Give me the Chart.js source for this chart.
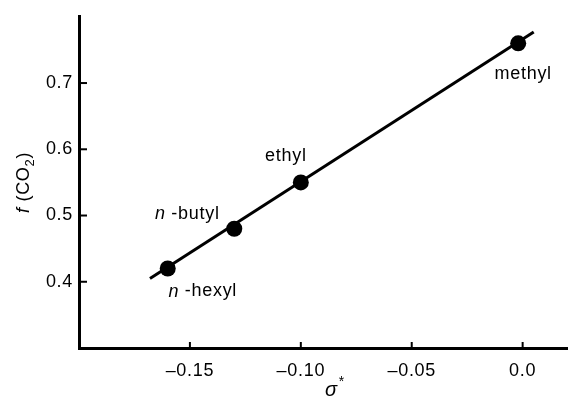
<!DOCTYPE html>
<html>
<head>
<meta charset="utf-8">
<script src="https://cdn.jsdelivr.net/npm/chart.js@4/dist/chart.umd.min.js"></script>
<style>
  body { margin: 0; background: #fff; }
  canvas { display: block; }
</style>
</head>
<body>
<canvas id="chart" width="568" height="397"></canvas>
<script>
// data
const groups = ['n-hexyl', 'n-butyl', 'ethyl', 'methyl'];
const sigmaStar = [-0.16, -0.13, -0.10, -0.002];
const fCO2 = [0.42, 0.48, 0.55, 0.76];
// fitted line end points
const fitX = [-0.168, 0.005];
const fitY = [0.405, 0.777];
const xTicks = [-0.15, -0.10, -0.05, 0.0];
const yTicks = [0.4, 0.5, 0.6, 0.7];

const FONT = '"Liberation Sans", Arial, Helvetica, sans-serif';
const fmtX = v => (v < 0 ? '\u2013' : '') + Math.abs(v).toFixed(v === 0 ? 1 : 2);

// label offsets from each point (px)
const labelOffsets = {
    'n-hexyl': [35, 23],
    'n-butyl': [-47, -15],
    'ethyl': [-15, -26],
    'methyl': [5, 31]
};

const extras = {
    id: 'extras',
    beforeDraw(chart) {
        chart.ctx.letterSpacing = '0.7px';
    },
    afterDraw(chart) {
        const ctx = chart.ctx;
        const xs = chart.scales.x, ys = chart.scales.y;
        const area = chart.chartArea;
        ctx.save();
        ctx.strokeStyle = '#000';
        ctx.lineWidth = 2;
        // inward tick marks
        yTicks.forEach(v => {
            const y = ys.getPixelForValue(v);
            ctx.beginPath(); ctx.moveTo(area.left, y); ctx.lineTo(area.left + 8, y); ctx.stroke();
        });
        xTicks.forEach(v => {
            const x = xs.getPixelForValue(v);
            ctx.beginPath(); ctx.moveTo(x, area.bottom); ctx.lineTo(x, area.bottom - 6); ctx.stroke();
        });

        // point labels
        ctx.fillStyle = '#000';
        ctx.textBaseline = 'middle';
        const meta = chart.getDatasetMeta(1);
        meta.data.forEach((pt, i) => {
            const name = groups[i];
            const [dx, dy] = labelOffsets[name];
            const cx = pt.x + dx, cy = pt.y + dy;
            if (name.startsWith('n-')) {
                const a = 'n', b = ' -' + name.slice(2);
                ctx.font = 'italic 18px ' + FONT;
                const wa = ctx.measureText(a).width;
                ctx.font = '18px ' + FONT;
                const wb = ctx.measureText(b).width;
                let x0 = cx - (wa + wb) / 2;
                ctx.textAlign = 'left';
                ctx.font = 'italic 18px ' + FONT;
                ctx.fillText(a, x0, cy);
                ctx.font = '18px ' + FONT;
                ctx.fillText(b, x0 + wa, cy);
            } else {
                ctx.textAlign = 'center';
                ctx.font = '18px ' + FONT;
                ctx.fillText(name, cx, cy);
            }
        });

        // x axis title: sigma*
        ctx.textAlign = 'left';
        ctx.textBaseline = 'alphabetic';
        ctx.font = 'italic 20px ' + FONT;
        const sx = (area.left + area.right) / 2 + 2;
        ctx.fillText('\u03c3', sx, 396);
        const sw = ctx.measureText('\u03c3').width;
        ctx.font = '14px ' + FONT;
        ctx.fillText('*', sx + sw + 1, 386);

        // y axis title: f (CO2)
        ctx.translate(23, (area.top + area.bottom) / 2);
        ctx.rotate(-Math.PI / 2);
        const parts = [
            ['f', 'italic 18px ' + FONT, 0],
            [' (CO', '18px ' + FONT, 0],
            ['2', '13px ' + FONT, 5],
            [')', '18px ' + FONT, 0]
        ];
        let total = 0;
        parts.forEach(p => { ctx.font = p[1]; total += ctx.measureText(p[0]).width; });
        let px = -total / 2;
        parts.forEach(p => {
            ctx.font = p[1];
            ctx.fillText(p[0], px, 6 + p[2]);
            px += ctx.measureText(p[0]).width;
        });
        ctx.restore();
    }
};

new Chart(document.getElementById('chart').getContext('2d'), {
    type: 'scatter',
    data: {
        datasets: [{
            label: 'fit',
            data: fitX.map((x, i) => ({ x: x, y: fitY[i] })),
            showLine: true,
            borderColor: '#000',
            borderWidth: 3,
            pointRadius: 0
        }, {
            label: 'f(CO2)',
            data: sigmaStar.map((x, i) => ({ x: x, y: fCO2[i] })),
            backgroundColor: '#000',
            borderColor: '#000',
            pointRadius: 8,
            pointBorderWidth: 0
        }]
    },
    options: {
        responsive: false,
        animation: false,
        layout: { autoPadding: false, padding: { top: 15, right: 1, left: 0, bottom: 0 } },
        plugins: { legend: { display: false }, tooltip: { enabled: false } },
        scales: {
            x: {
                type: 'linear',
                min: -0.2,
                max: 0.02,
                grid: { display: false, drawTicks: false },
                border: { color: '#000', width: 3 },
                ticks: {
                    color: '#000',
                    font: { family: FONT, size: 18 },
                    padding: 12,
                    maxRotation: 0,
                    callback: v => fmtX(v)
                },
                afterBuildTicks: s => { s.ticks = xTicks.map(v => ({ value: v })); },
                afterFit: s => { s.height = 49; }
            },
            y: {
                type: 'linear',
                min: 0.3,
                max: 0.8,
                grid: { display: false, drawTicks: false },
                border: { color: '#000', width: 3 },
                ticks: {
                    color: '#000',
                    font: { family: FONT, size: 18 },
                    padding: 6,
                    callback: v => v.toFixed(1)
                },
                afterBuildTicks: s => { s.ticks = yTicks.map(v => ({ value: v })); },
                afterFit: s => { s.width = 79; }
            }
        }
    },
    plugins: [extras]
});
</script>
</body>
</html>
